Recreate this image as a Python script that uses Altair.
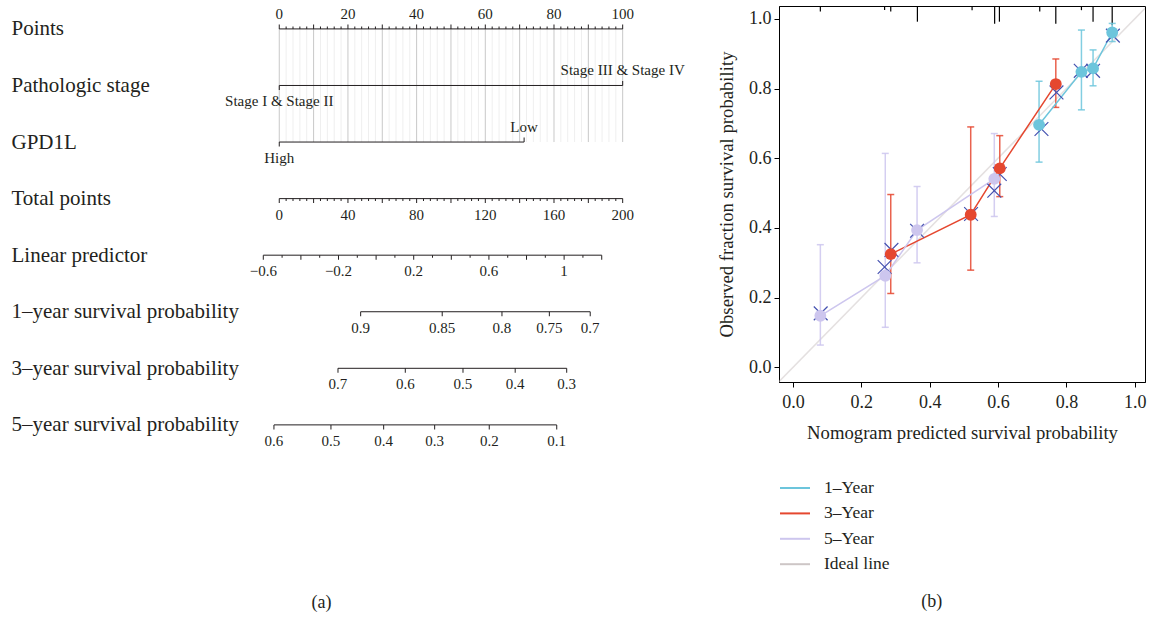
import json
import altair as alt
import pandas as pd

FONT = "Liberation Serif"
INK = "#231f20"

# ---------------- (a) Nomogram ----------------
row_names = ["Points", "Pathologic stage", "GPD1L", "Total points", "Linear predictor",
             "1\u2013year survival probability", "3\u2013year survival probability",
             "5\u2013year survival probability"]

points_minor = list(range(0, 101, 2))
points_major = list(range(0, 101, 10))
points_labels = [0, 20, 40, 60, 80, 100]

stage_levels = ["Stage I & Stage II", "Stage III & Stage IV"]
stage_points = [0, 100]
gpd1l_levels = ["High", "Low"]
gpd1l_points = [0, 71.3]

total_minor = list(range(0, 201, 4))
total_major = list(range(0, 201, 20))
total_labels = [0, 40, 80, 120, 160, 200]

lp_minor = [-0.6, -0.5, -0.4, -0.3, -0.2, -0.1, 0.0, 0.1, 0.2, 0.3, 0.4, 0.5,
            0.6, 0.7, 0.8, 0.9, 1.0, 1.1, 1.2]
lp_major = [-0.6, -0.4, -0.2, 0.0, 0.2, 0.4, 0.6, 0.8, 1.0, 1.2]
lp_labels = [-0.6, -0.2, 0.2, 0.6, 1.0]
lp_total_at_min = -9.3      # total points where linear predictor = -0.6
lp_total_per_unit = 109.5   # total points per unit of linear predictor

surv1_labels = [0.9, 0.85, 0.8, 0.75, 0.7]
surv1_total = [47.4, 94.9, 129.7, 157.3, 181.1]
surv3_labels = [0.7, 0.6, 0.5, 0.4, 0.3]
surv3_total = [34.2, 73.4, 107.0, 137.4, 167.4]
surv5_labels = [0.6, 0.5, 0.4, 0.3, 0.2, 0.1]
surv5_total = [-3.1, 30.1, 60.8, 90.5, 122.3, 161.6]

PTS = 2.0  # the 0-100 points axis spans total points 0-200


def lp_to_total(v):
    return lp_total_at_min + (v - lp_minor[0]) * lp_total_per_unit


def fmt(v):
    s = f"{v:g}"
    return s.replace("-", "\u2212")


lines = pd.DataFrame([
    {"row": 0, "x0": points_minor[0] * PTS, "x1": points_minor[-1] * PTS},
    {"row": 1, "x0": stage_points[0] * PTS, "x1": stage_points[-1] * PTS},
    {"row": 2, "x0": gpd1l_points[0] * PTS, "x1": gpd1l_points[-1] * PTS},
    {"row": 3, "x0": total_minor[0], "x1": total_minor[-1]},
    {"row": 4, "x0": lp_to_total(lp_minor[0]), "x1": lp_to_total(lp_minor[-1])},
    {"row": 5, "x0": surv1_total[0], "x1": surv1_total[-1]},
    {"row": 6, "x0": surv3_total[0], "x1": surv3_total[-1]},
    {"row": 7, "x0": surv5_total[0], "x1": surv5_total[-1]},
])

ticks = []
for p in points_minor:
    ticks.append({"row": 0, "tp": p * PTS, "kind": "up_major" if p in points_major else "up_minor"})
ticks.append({"row": 1, "tp": stage_points[0] * PTS, "kind": "down_major"})
ticks.append({"row": 1, "tp": stage_points[1] * PTS, "kind": "up_major"})
ticks.append({"row": 2, "tp": gpd1l_points[0] * PTS, "kind": "down_major"})
ticks.append({"row": 2, "tp": gpd1l_points[1] * PTS, "kind": "up_major"})
for t in total_minor:
    ticks.append({"row": 3, "tp": t, "kind": "down_major" if t in total_major else "down_minor"})
for v in lp_minor:
    major = any(abs(v - m) < 1e-9 for m in lp_major)
    ticks.append({"row": 4, "tp": lp_to_total(v), "kind": "down_major" if major else "down_minor"})
for r, tl in ((5, surv1_total), (6, surv3_total), (7, surv5_total)):
    for t in tl:
        ticks.append({"row": r, "tp": t, "kind": "down_major"})
ticks = pd.DataFrame(ticks)

labels = []
for p in points_labels:
    labels.append({"row": 0, "tp": p * PTS, "text": str(p), "side": "above"})
labels.append({"row": 1, "tp": stage_points[0] * PTS, "text": stage_levels[0], "side": "below"})
labels.append({"row": 1, "tp": stage_points[1] * PTS, "text": stage_levels[1], "side": "above"})
labels.append({"row": 2, "tp": gpd1l_points[0] * PTS, "text": gpd1l_levels[0], "side": "below"})
labels.append({"row": 2, "tp": gpd1l_points[1] * PTS, "text": gpd1l_levels[1], "side": "above"})
for t in total_labels:
    labels.append({"row": 3, "tp": t, "text": str(t), "side": "below"})
for v in lp_labels:
    labels.append({"row": 4, "tp": lp_to_total(v), "text": fmt(v), "side": "below"})
for r, labs, tl in ((5, surv1_labels, surv1_total), (6, surv3_labels, surv3_total),
                    (7, surv5_labels, surv5_total)):
    for v, t in zip(labs, tl):
        labels.append({"row": r, "tp": t, "text": fmt(v), "side": "below"})
labels = pd.DataFrame(labels)

grid = pd.DataFrame([
    {"tp": p * PTS, "row": 0, "row_end": 2, "kind": "major" if p in points_major else "minor"}
    for p in points_minor
])

x_scale = alt.Scale(domain=[-21.7, 246.2], nice=False, zero=False)
y_scale = alt.Scale(domain=[-0.405, 7.727], nice=False, zero=False, reverse=True)
row_axis = alt.Axis(
    values=list(range(len(row_names))),
    labelExpr=json.dumps(row_names, ensure_ascii=False) + "[datum.value]",
    labelAlign="left", labelBaseline="middle", labelPadding=231,
    ticks=False, tickSize=0, domain=False, grid=False,
    labelFont=FONT, labelFontSize=21, labelColor=INK,
    labelLimit=400, labelOverlap=False, labelFlush=False, title=None,
)


def XL(field):
    return alt.X(f"{field}:Q", scale=x_scale, axis=None)


YL = alt.Y("row:Q", scale=y_scale, axis=row_axis)

base_grid = alt.Chart(grid)
grid_minor = base_grid.transform_filter(alt.datum.kind == "minor").mark_rule(
    color="#efefef", strokeWidth=1).encode(x=XL("tp"), y=YL, y2="row_end:Q")
grid_major = base_grid.transform_filter(alt.datum.kind == "major").mark_rule(
    color="#c8c8c8", strokeWidth=1).encode(x=XL("tp"), y=YL, y2="row_end:Q")

axis_lines = alt.Chart(lines).mark_rule(color=INK, strokeWidth=1).encode(
    x=XL("x0"), x2="x1:Q", y=YL)

tick_layers = []
for kind, size, off in (("up_major", 4.5, -2.25), ("up_minor", 2.5, -1.25),
                        ("down_major", 4.5, 2.25), ("down_minor", 2.5, 1.25)):
    tick_layers.append(
        alt.Chart(ticks).transform_filter(alt.datum.kind == kind).mark_tick(
            orient="vertical", size=size, thickness=1, yOffset=off, color=INK, opacity=1
        ).encode(x=XL("tp"), y=YL)
    )

text_above = alt.Chart(labels).transform_filter(alt.datum.side == "above").mark_text(
    font=FONT, fontSize=15, color=INK, dy=-15, baseline="middle", align="center"
).encode(x=XL("tp"), y=YL, text="text:N")
text_below = alt.Chart(labels).transform_filter(alt.datum.side == "below").mark_text(
    font=FONT, fontSize=15, color=INK, dy=16, baseline="middle", align="center"
).encode(x=XL("tp"), y=YL, text="text:N")

left = alt.layer(grid_minor, grid_major, axis_lines, *tick_layers, text_above, text_below).properties(
    width=460, height=460,
    view=alt.ViewBackground(stroke="transparent"),
    title=alt.TitleParams("(a)", orient="bottom", anchor="middle", frame="bounds",
                          offset=128, dx=-35, font=FONT, fontSize=18,
                          fontWeight="normal", color=INK),
)

# ---------------- (b) Calibration ----------------
series_names = ["1\u2013Year", "3\u2013Year", "5\u2013Year", "Ideal line"]
series_colors = ["#6cc5dc", "#e5472f", "#cdc6ee", "#cdc6c6"]

cal1_pred = [0.720, 0.844, 0.878, 0.934]
cal1_obs = [0.696, 0.848, 0.858, 0.961]
cal1_lo = [0.589, 0.739, 0.808, 0.935]
cal1_hi = [0.821, 0.968, 0.911, 0.987]
cal1_bc_pred = [0.727, 0.842, 0.878, 0.936]
cal1_bc_obs = [0.684, 0.851, 0.851, 0.952]

cal3_pred = [0.286, 0.520, 0.605, 0.769]
cal3_obs = [0.325, 0.438, 0.571, 0.813]
cal3_lo = [0.212, 0.279, 0.490, 0.746]
cal3_hi = [0.496, 0.690, 0.665, 0.885]
cal3_bc_pred = [0.288, 0.521, 0.605, 0.771]
cal3_bc_obs = [0.337, 0.440, 0.555, 0.789]

cal5_pred = [0.080, 0.270, 0.363, 0.589]
cal5_obs = [0.148, 0.263, 0.394, 0.541]
cal5_lo = [0.064, 0.115, 0.300, 0.433]
cal5_hi = [0.352, 0.614, 0.519, 0.671]
cal5_bc_pred = [0.081, 0.268, 0.363, 0.589]
cal5_bc_obs = [0.155, 0.288, 0.392, 0.507]

ideal_x = [-0.1, 1.1]

rug_pred = [0.080, 0.268, 0.286, 0.364, 0.524, 0.590, 0.604, 0.722, 0.769, 0.844, 0.878, 0.934]
rug_height = [0.016, 0.0115, 0.016, 0.045, 0.012, 0.051, 0.045, 0.016, 0.051, 0.012, 0.045, 0.055]

XR_DOM = [-0.041, 1.03]
YR_DOM = [-0.042, 1.037]

rows = []
for name, pr, ob, lo, hi, bp, bo in (
    (series_names[0], cal1_pred, cal1_obs, cal1_lo, cal1_hi, cal1_bc_pred, cal1_bc_obs),
    (series_names[1], cal3_pred, cal3_obs, cal3_lo, cal3_hi, cal3_bc_pred, cal3_bc_obs),
    (series_names[2], cal5_pred, cal5_obs, cal5_lo, cal5_hi, cal5_bc_pred, cal5_bc_obs),
):
    for i in range(len(pr)):
        rows.append({"series": name, "pred": pr[i], "obs": ob[i], "lo": lo[i], "hi": hi[i],
                     "bc_pred": bp[i], "bc_obs": bo[i]})
cal = pd.DataFrame(rows)
caps = pd.concat([
    cal[["series", "pred"]].assign(cap=cal["lo"]),
    cal[["series", "pred"]].assign(cap=cal["hi"]),
], ignore_index=True)
ideal = pd.DataFrame({"series": series_names[3], "pred": ideal_x, "obs": ideal_x})
rug = pd.DataFrame({"pred": rug_pred, "top": YR_DOM[1],
                    "bot": [YR_DOM[1] - h for h in rug_height]})

xr_scale = alt.Scale(domain=XR_DOM, nice=False, zero=False)
yr_scale = alt.Scale(domain=YR_DOM, nice=False, zero=False)
common_axis = dict(grid=False, tickSize=5, tickColor="#000", domainColor="#000",
                   labelFont=FONT, labelFontSize=18, labelColor=INK,
                   titleFont=FONT, titleFontSize=18.7, titleColor=INK,
                   titleFontWeight="normal", labelFlush=False, labelOverlap=False,
                   values=[0, 0.2, 0.4, 0.6, 0.8, 1.0], format=".1f")
x_axis_r = alt.Axis(title="Nomogram predicted survival probability",
                    labelPadding=6, titlePadding=12, **common_axis)
y_axis_r = alt.Axis(title="Observed fraction survival probability",
                    labelPadding=3, titlePadding=12, **common_axis)


def XR(f):
    return alt.X(f"{f}:Q", scale=xr_scale, axis=x_axis_r)


def YR(f):
    return alt.Y(f"{f}:Q", scale=yr_scale, axis=y_axis_r)


color_scale = alt.Scale(domain=series_names, range=series_colors)
legend = alt.Legend(orient="none", legendX=0, legendY=466, direction="vertical",
                    title=None, symbolType="stroke", symbolSize=900,
                    symbolStrokeWidth=2, symbolOpacity=1, labelOffset=13,
                    rowPadding=0.4, labelFont=FONT, labelFontSize=17.5,
                    labelColor=INK)
COL = alt.Color("series:N", scale=color_scale, legend=legend)

ideal_line = alt.Chart(ideal).mark_line(clip=True, strokeWidth=1.5, opacity=0.55).encode(
    x=XR("pred"), y=YR("obs"), color=COL)
rug_rules = alt.Chart(rug).mark_rule(color="#000", strokeWidth=1.2).encode(
    x=XR("pred"), y=YR("bot"), y2="top:Q")
err = alt.Chart(cal).mark_rule(strokeWidth=1.5, opacity=0.85).encode(
    x=XR("pred"), y=YR("lo"), y2="hi:Q", color=COL)
cap_marks = alt.Chart(caps).mark_tick(orient="horizontal", size=7, thickness=1.5,
                                      opacity=0.85).encode(
    x=XR("pred"), y=YR("cap"), color=COL)
conn = alt.Chart(cal).mark_line(strokeWidth=1.5).encode(
    x=XR("pred"), y=YR("obs"), color=COL, order="pred:Q")
bc_marks = alt.Chart(cal).mark_point(
    shape="M -1 -1 L 1 1 M -1 1 L 1 -1", size=190, filled=False,
    strokeWidth=1.2, color="#4552b0", opacity=1
).encode(x=XR("bc_pred"), y=YR("bc_obs"))
dots = alt.Chart(cal).mark_circle(size=140, opacity=1).encode(
    x=XR("pred"), y=YR("obs"), color=COL)

right = alt.layer(ideal_line, rug_rules, err, cap_marks, conn, bc_marks, dots).properties(
    width=366, height=376,
    view=alt.ViewBackground(stroke="#000", strokeWidth=1),
    title=alt.TitleParams("(b)", orient="bottom", anchor="middle", frame="bounds",
                          offset=20, font=FONT, fontSize=18,
                          fontWeight="normal", color=INK),
)

chart = alt.hconcat(left, right, spacing=14).resolve_scale(
    color="independent").resolve_legend(color="independent").properties(
    padding={"left": 10, "top": 4, "right": 0, "bottom": 0},
    background="white",
)

chart.save("out.html", embed_options={"renderer": "svg", "actions": False})
